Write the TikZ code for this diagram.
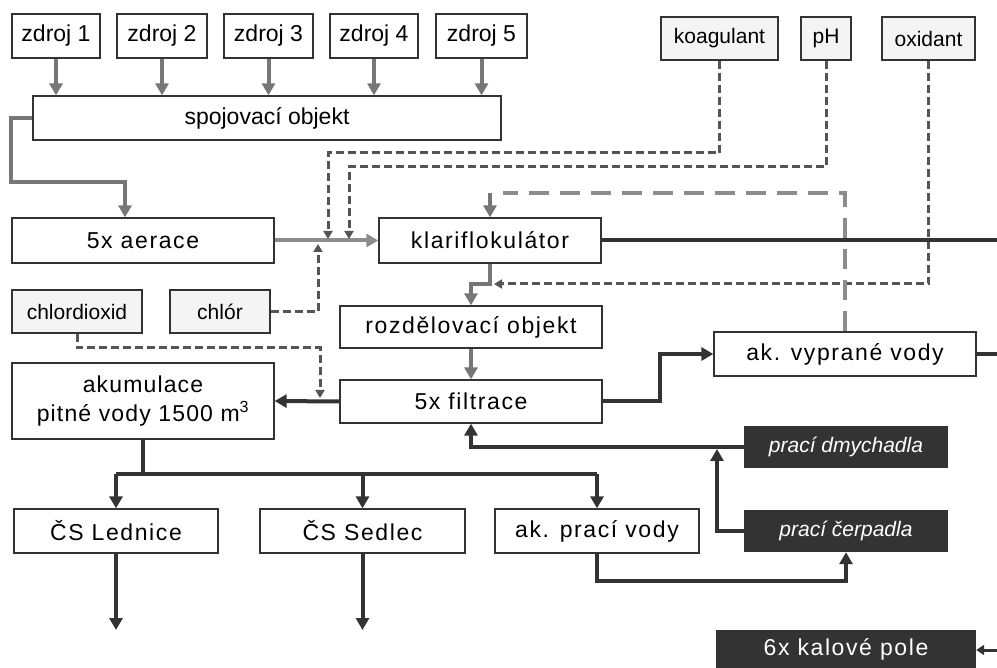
\documentclass[tikz,border=0pt]{standalone}
\usepackage{fontspec}
\setmainfont{Liberation Sans}
\newfontfamily\spacedfam[LetterSpace=7]{Liberation Sans}
\newfontfamily\akufam[LetterSpace=5]{Liberation Sans}
\newfontfamily\plainfam{Liberation Sans}
\usetikzlibrary{arrows.meta}
\definecolor{dk}{HTML}{333333}
\definecolor{gr}{HTML}{777777}
\definecolor{lg}{HTML}{8C8C8C}
\definecolor{ds}{HTML}{555555}
\definecolor{chemfill}{HTML}{F4F4F4}
\newcommand\bigf{\fontsize{23}{29}\spacedfam}
\newcommand\akuf{\fontsize{23}{29}\akufam}
\newcommand\zf{\fontsize{23}{27}\plainfam}
\newcommand\smf{\fontsize{21}{25}\plainfam}
\newcommand\itf{\fontsize{21}{25}\plainfam\itshape}
\tikzset{
  box/.style={draw=dk, line width=1.3pt, fill=white, inner sep=0pt, font=\bigf},
  zbox/.style={box, font=\zf},
  chem/.style={draw=dk, line width=1.1pt, fill=chemfill, inner sep=0pt, font=\smf},
  dbox/.style={fill=dk, draw=none, text=white, inner sep=0pt, font=\itf},
  garrow/.style={draw=gr, line width=4pt, -{Triangle[length=12pt,width=13pt]}},
  larrow/.style={draw=lg, line width=4pt, -{Triangle[length=12pt,width=13pt]}},
  darrow/.style={draw=dk, line width=4pt, -{Triangle[length=12pt,width=13pt]}},
  dline/.style={draw=dk, line width=4pt},
  dsh/.style={draw=ds, line width=3pt, dash pattern=on 8pt off 4pt, -{Triangle[length=8pt,width=9pt]}},
  longdash/.style={draw=lg, line width=4pt, dash pattern=on 20pt off 11pt},
}
\begin{document}
\begin{tikzpicture}[x=1pt,y=-1pt]
\useasboundingbox (0,0) rectangle (997,668);
% nodes
\node[zbox, minimum width=88pt, minimum height=44pt] (z1) at (56,36) {zdroj 1};
\node[zbox, minimum width=90pt, minimum height=44pt] (z2) at (162,36) {zdroj 2};
\node[zbox, minimum width=89pt, minimum height=44pt] (z3) at (268.5,36) {zdroj 3};
\node[zbox, minimum width=88pt, minimum height=44pt] (z4) at (374,36) {zdroj 4};
\node[zbox, minimum width=91pt, minimum height=44pt] (z5) at (481.5,36) {zdroj 5};
\node[zbox, minimum width=468pt, minimum height=44pt] (spoj) at (267,118) {spojovací objekt};
\node[chem, minimum width=117pt, minimum height=43pt] (koag) at (719.5,38.5) {koagulant};
\node[chem, minimum width=50pt, minimum height=43pt] (ph) at (826,38.5) {pH};
\node[chem, minimum width=93pt, minimum height=43pt] (oxi) at (928.5,38.5) {oxidant};
\node[box, minimum width=262pt, minimum height=45pt] (aer) at (143,240.5) {5x aerace};
\node[box, minimum width=222pt, minimum height=45pt] (klar) at (490,240.5) {klariflokulátor};
\node[chem, minimum width=130pt, minimum height=43pt] (chd) at (77,311.5) {chlordioxid};
\node[chem, minimum width=100pt, minimum height=43pt] (chl) at (220,311.5) {chlór};
\node[box, minimum width=262pt, minimum height=42pt] (roz) at (471,327) {rozdělovací objekt};
\node[box, minimum width=262pt, minimum height=43pt] (fil) at (471,401.5) {5x filtrace};
\node[box, minimum width=262pt, minimum height=44pt] (vyp) at (845,354) {ak. vyprané vody};
\node[box, font=\akuf, minimum width=262pt, minimum height=76pt, align=center] (aku) at (143,401) {akumulace\\pitné vody 1500 m\textsuperscript{3}};
\node[dbox, minimum width=204pt, minimum height=42pt] (dmy) at (846,447) {prací dmychadla};
\node[dbox, minimum width=204pt, minimum height=42pt] (cer) at (846,531) {prací čerpadla};
\node[box, minimum width=204pt, minimum height=44pt] (led) at (116,531) {ČS Lednice};
\node[box, minimum width=205pt, minimum height=44pt] (sed) at (362.5,531) {ČS Sedlec};
\node[box, minimum width=204pt, minimum height=44pt] (apv) at (597,531) {ak. prací vody};
\node[dbox, font=\bigf, minimum width=260pt, minimum height=38pt] (kal) at (846,649) {6x kalové pole};
% coordinates
\coordinate (kH) at (328,153);
\coordinate (kE) at (328,239);
\coordinate (pH1) at (349,167);
\coordinate (pE) at (349,239);
\coordinate (oE) at (494,284);
\coordinate (cE) at (318,244);
\coordinate (cd1) at (320,348);
\coordinate (cdE) at (320,398);
\coordinate (w1) at (490,193);
\coordinate (kr) at (490,284);
\coordinate (f1) at (660,354);
\coordinate (r1) at (997,240.5);
\coordinate (r2) at (997,354);
\coordinate (d0) at (143,474);
\coordinate (lo) at (116,630);
\coordinate (c2) at (717,449);
\coordinate (r3) at (997,650);
% zdroj arrows
\foreach \z in {z1,z2,z3,z4,z5}
  \draw[garrow] (\z.south) -- (\z.south |- spoj.north);
% spojovaci -> aerace
\draw[garrow] (spoj.west) -- ++(-21,0) -- ++(0,64) -| ([xshift=-18pt]aer.north);
% aerace -> klarif
\draw[larrow] (aer.east) -- (klar.west);
% chemicals
\draw[dsh] (koag.south) |- (kH) -- (kE);
\draw[dsh] (ph.south) |- (pH1) -- (pE);
\draw[dsh] (oxi.south) |- (oE);
\draw[dsh] (chl.east) -| (cE);
\draw[dsh] (chd.south) |- (cd1) -- (cdE);
% wash water return
\draw[longdash] (vyp.north) |- ([xshift=13pt]w1);
\draw[garrow] (w1) -- (klar.north);
% klarif -> rozdel
\draw[garrow] (klar.south) -- (kr) -| (roz.north);
% rozdel -> filtrace
\draw[garrow] (roz.south) -- (fil.north);
% filtrace -> akumulace
\draw[darrow] (fil.west) -- (aku.east);
% filtrace -> vyprane
\draw[darrow] (fil.east) -| (f1) -- (vyp.west);
% right outlets
\draw[dline] (klar.east) -- (r1);
\draw[dline] (vyp.east) -- (r2);
% distribution
\draw[dline] (aku.south) -- (d0);
\draw[dline] (led.north |- d0) -- (apv.north |- d0);
\draw[darrow] (led.north |- d0) -- (led.north);
\draw[darrow] (sed.north |- d0) -- (sed.north);
\draw[darrow] (apv.north |- d0) -- (apv.north);
\draw[darrow] (led.south) -- (led.south |- lo);
\draw[darrow] (sed.south) -- (sed.south |- lo);
% wash
\draw[darrow] (apv.south) -- ++(0,27) -| (cer.south);
\draw[darrow] (cer.west) -| (c2);
\draw[darrow] (dmy.west) -| (fil.south);
% kalove pole
\draw[draw=dk, line width=3pt, -{Triangle[length=8pt,width=10pt]}] (r3) -- (kal.east |- r3);
\end{tikzpicture}
\end{document}
